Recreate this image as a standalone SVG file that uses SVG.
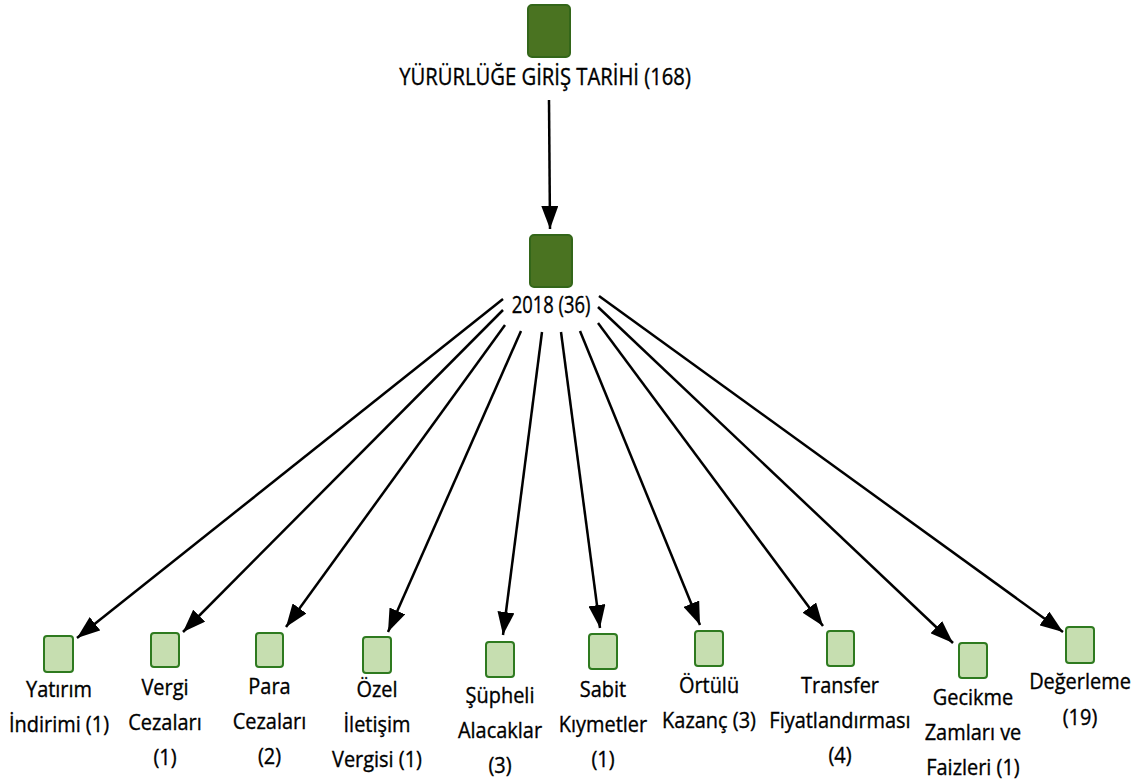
<svg xmlns="http://www.w3.org/2000/svg" width="1142" height="784" viewBox="0 0 1142 784">
  <style>
    .hub { fill: #4a7321; stroke: #336619; stroke-width: 2; }
    .leaf { fill: #c6deb0; stroke: #2e7a1f; stroke-width: 2; }
    .lbl { font-family: "Open Sans", "Noto Sans", sans-serif; fill: #000; stroke: #000; stroke-width: 0.35; text-anchor: middle; }
    .big { font-size: 23px; }
    .small { font-size: 21px; }
    .edge { stroke: #000; stroke-width: 2.5; fill: none; marker-end: url(#arrow); }
  </style>
  <defs>
    <marker id="arrow" markerUnits="userSpaceOnUse" markerWidth="23" markerHeight="17" refX="23" refY="8.5" orient="auto">
      <path d="M0,0 L23,8.5 L0,17 Z" fill="#000"/>
    </marker>
  </defs>
  <rect width="1142" height="784" fill="#fff"/>

  <g id="connectors">
    <line class="edge" x1="549" y1="100" x2="550" y2="229"/>
    <line class="edge" x1="503" y1="299" x2="77" y2="638"/>
    <line class="edge" x1="503" y1="310" x2="183" y2="632"/>
    <line class="edge" x1="505" y1="325" x2="286" y2="627"/>
    <line class="edge" x1="521" y1="331" x2="388" y2="632"/>
    <line class="edge" x1="542" y1="332" x2="503" y2="635"/>
    <line class="edge" x1="561" y1="332" x2="600" y2="628"/>
    <line class="edge" x1="580" y1="331" x2="700" y2="625"/>
    <line class="edge" x1="598" y1="323" x2="823" y2="626"/>
    <line class="edge" x1="598" y1="307" x2="953" y2="643"/>
    <line class="edge" x1="599" y1="296" x2="1063" y2="632"/>
  </g>

  <g id="node-root">
    <rect class="hub" x="528" y="5" width="42" height="52" rx="4"/>
    <g transform="translate(545,0) scale(0.88,1)">
      <text class="lbl big" x="0" y="85">YÜRÜRLÜĞE GİRİŞ TARİHİ (168)</text>
    </g>
  </g>

  <g id="node-2018">
    <rect class="hub" x="530" y="235" width="42" height="52" rx="4"/>
    <g transform="translate(551,0) scale(0.8,1)">
      <text class="lbl big" x="0" y="313">2018 (36)</text>
    </g>
  </g>

  <g id="node-yatirim">
    <rect class="leaf" x="44" y="636" width="29" height="36" rx="3"/>
    <g transform="translate(59,0) scale(0.95,1)">
      <text class="lbl small" x="0" y="697">Yatırım</text>
      <text class="lbl small" x="0" y="732">İndirimi (1)</text>
    </g>
  </g>

  <g id="node-vergi">
    <rect class="leaf" x="151" y="633" width="28" height="34" rx="3"/>
    <g transform="translate(165,0) scale(0.95,1)">
      <text class="lbl small" x="0" y="695">Vergi</text>
      <text class="lbl small" x="0" y="730">Cezaları</text>
      <text class="lbl small" x="0" y="765">(1)</text>
    </g>
  </g>

  <g id="node-para">
    <rect class="leaf" x="256" y="633" width="27" height="34" rx="3"/>
    <g transform="translate(269.5,0) scale(0.95,1)">
      <text class="lbl small" x="0" y="694">Para</text>
      <text class="lbl small" x="0" y="729">Cezaları</text>
      <text class="lbl small" x="0" y="764">(2)</text>
    </g>
  </g>

  <g id="node-ozel">
    <rect class="leaf" x="363" y="637" width="28" height="36" rx="3"/>
    <g transform="translate(377,0) scale(0.95,1)">
      <text class="lbl small" x="0" y="697">Özel</text>
      <text class="lbl small" x="0" y="732">İletişim</text>
      <text class="lbl small" x="0" y="767">Vergisi (1)</text>
    </g>
  </g>

  <g id="node-supheli">
    <rect class="leaf" x="486" y="642" width="28" height="35" rx="3"/>
    <g transform="translate(500,0) scale(0.95,1)">
      <text class="lbl small" x="0" y="703">Şüpheli</text>
      <text class="lbl small" x="0" y="738">Alacaklar</text>
      <text class="lbl small" x="0" y="773">(3)</text>
    </g>
  </g>

  <g id="node-sabit">
    <rect class="leaf" x="589" y="634" width="28" height="35" rx="3"/>
    <g transform="translate(603,0) scale(0.95,1)">
      <text class="lbl small" x="0" y="697">Sabit</text>
      <text class="lbl small" x="0" y="732">Kıymetler</text>
      <text class="lbl small" x="0" y="767">(1)</text>
    </g>
  </g>

  <g id="node-ortulu">
    <rect class="leaf" x="695" y="631" width="28" height="35" rx="3"/>
    <g transform="translate(709,0) scale(0.95,1)">
      <text class="lbl small" x="0" y="693">Örtülü</text>
      <text class="lbl small" x="0" y="728">Kazanç (3)</text>
    </g>
  </g>

  <g id="node-transfer">
    <rect class="leaf" x="827" y="631" width="27" height="35" rx="3"/>
    <g transform="translate(840,0) scale(0.95,1)">
      <text class="lbl small" x="0" y="693">Transfer</text>
      <text class="lbl small" x="0" y="728">Fiyatlandırması</text>
      <text class="lbl small" x="0" y="763">(4)</text>
    </g>
  </g>

  <g id="node-gecikme">
    <rect class="leaf" x="959" y="643" width="28" height="35" rx="3"/>
    <g transform="translate(973,0) scale(0.95,1)">
      <text class="lbl small" x="0" y="705">Gecikme</text>
      <text class="lbl small" x="0" y="740">Zamları ve</text>
      <text class="lbl small" x="0" y="775">Faizleri (1)</text>
    </g>
  </g>

  <g id="node-degerleme">
    <rect class="leaf" x="1066" y="627" width="28" height="36" rx="3"/>
    <g transform="translate(1080,0) scale(0.95,1)">
      <text class="lbl small" x="0" y="689">Değerleme</text>
      <text class="lbl small" x="0" y="725">(19)</text>
    </g>
  </g>
</svg>
